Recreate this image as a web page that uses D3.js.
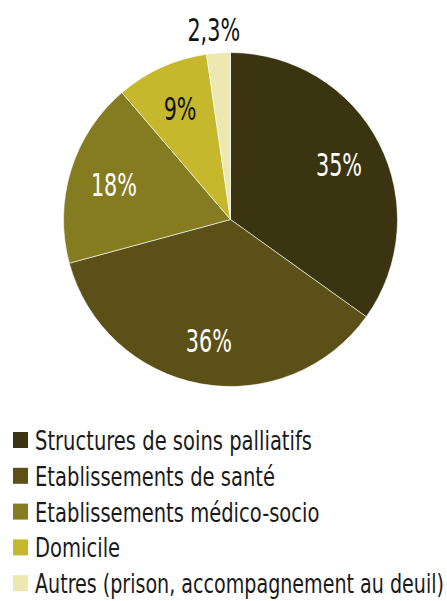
<!DOCTYPE html>
<html>
<head>
<meta charset="utf-8">
<script src="https://cdn.jsdelivr.net/npm/d3@7"></script>
<style>
  body { margin: 0; background: #fff; }
  svg text { font-family: "DejaVu Sans Condensed", "DejaVu Sans", sans-serif; font-weight: 300; }
</style>
</head>
<body>
<div id="chart"></div>
<script>
// data
var categories = [
  "Structures de soins palliatifs",
  "Etablissements de santé",
  "Etablissements médico-socio",
  "Domicile",
  "Autres (prison, accompagnement au deuil)"
];
var values = [35, 36, 18, 9, 2.3];
var valueLabels = ["35%", "36%", "18%", "9%", "2,3%"];
var colors = ["#3a3510", "#5b5118", "#857c22", "#c6b82d", "#ede7b2"];
var labelColors = ["#fff", "#fff", "#fff", "#111", "#111"];

var width = 447, height = 601;
var cx = 230.5, cy = 219.5, radius = 167;

var svg = d3.select("#chart").append("svg")
  .attr("width", width)
  .attr("height", height);

var data = values.map(function(v, i) {
  return { name: categories[i], value: v, label: valueLabels[i], i: i };
});

var pie = d3.pie().sort(null).value(function(d) { return d.value; });
var arcs = pie(data);

var arc = d3.arc().innerRadius(0).outerRadius(radius);
var labelArc = d3.arc().innerRadius(122).outerRadius(122);
var outerArc = d3.arc().innerRadius(radius + 24).outerRadius(radius + 24);

var g = svg.append("g").attr("transform", "translate(" + cx + "," + cy + ")");

g.selectAll("path")
  .data(arcs)
  .enter().append("path")
  .attr("d", arc)
  .attr("fill", function(d) { return colors[d.data.i]; })
  .attr("stroke", "#fff")
  .attr("stroke-width", 0.6);

// squeeze text horizontally, the reference uses a narrow face
function condense(sel, k, maxW) {
  sel.each(function() {
    var w = this.getComputedTextLength() * k;
    if (maxW && w > maxW) w = maxW;
    d3.select(this)
      .attr("textLength", w)
      .attr("lengthAdjust", "spacingAndGlyphs");
  });
}

// small slice gets its label outside
var vals = g.selectAll("text.val")
  .data(arcs)
  .enter().append("text")
  .attr("class", "val")
  .attr("transform", function(d) {
    var small = d.data.value < 5;
    var c = small ? outerArc.centroid(d) : labelArc.centroid(d);
    if (small) c[0] = c[0] - 3;
    return "translate(" + c[0] + "," + (c[1] + 12) + ")";
  })
  .attr("text-anchor", "middle")
  .attr("font-size", 32)
  .attr("fill", function(d) { return labelColors[d.data.i]; })
  .text(function(d) { return d.data.label; });
condense(vals, 0.72);

// legend
var legend = svg.append("g").attr("transform", "translate(13,432)");
var rowH = 35.8;
var item = legend.selectAll("g")
  .data(data)
  .enter().append("g")
  .attr("transform", function(d, i) { return "translate(0," + (i * rowH) + ")"; });

item.append("rect")
  .attr("width", 15)
  .attr("height", 16)
  .attr("fill", function(d) { return colors[d.i]; });

var names = item.append("text")
  .attr("x", 22)
  .attr("y", 18)
  .attr("font-size", 26)
  .attr("fill", "#1a1a1a")
  .text(function(d) { return d.name; });
var w0 = names.node().getComputedTextLength();
condense(names, 277 / w0, width - 13 - 22 - 3);
</script>
</body>
</html>
